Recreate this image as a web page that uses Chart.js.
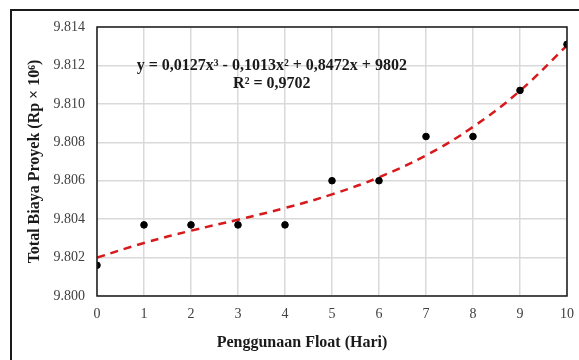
<!DOCTYPE html>
<html>
<head>
<meta charset="utf-8">
<script src="https://cdn.jsdelivr.net/npm/chart.js@4"></script>
<style>
  html, body { margin: 0; padding: 0; background: #fff; overflow: hidden; }
  #frame { position: absolute; left: 10px; top: 9px; width: 600px; height: 400px; border: 2px solid #1a1a1a; }
  #wrap { position: absolute; left: 0; top: 0; width: 579px; height: 360px; }
</style>
</head>
<body>
<div id="frame"></div>
<div id="wrap"><canvas id="floatChart"></canvas></div>
<script>
// Data
const floatDays = [0, 1, 2, 3, 4, 5, 6, 7, 8, 9, 10];
const totalCost = [9.8016, 9.8037, 9.8037, 9.8037, 9.8037, 9.8060, 9.8060, 9.8083, 9.8083, 9.8107, 9.8131];
const trendCost = [9.8020, 9.80276, 9.80340, 9.80397, 9.80458, 9.80529, 9.80618, 9.80732, 9.80880, 9.81068, 9.81304];
const yTicks = [9.800, 9.802, 9.804, 9.806, 9.808, 9.810, 9.812, 9.814];
const equationLines = ['y = 0,0127x³ - 0,1013x² + 0,8472x + 9802', 'R² = 0,9702'];
const xTitle = 'Penggunaan Float (Hari)';

const serif = "'Liberation Serif', 'Times New Roman', serif";

// Plot border, equation text and x-axis title
const framePlugin = {
    id: 'framePlugin',
    afterDatasetsDraw(chart) {
        const { ctx, chartArea: a, scales } = chart;
        ctx.save();
        ctx.strokeStyle = '#1a1a1a';
        ctx.lineWidth = 1.5;
        ctx.strokeRect(a.left, a.top, a.right - a.left, a.bottom - a.top);

        ctx.fillStyle = '#1a1a1a';
        ctx.font = 'bold 16px ' + serif;
        ctx.textAlign = 'center';
        ctx.textBaseline = 'middle';
        const cx = scales.x.getPixelForValue(3.72);
        const cy = scales.y.getPixelForValue(9.8120);
        equationLines.forEach((line, i) => ctx.fillText(line, cx, cy + i * 18));

        // x title sits a little left of the plot centre in the original
        ctx.fillText(xTitle, 302, 343);
        ctx.restore();
    }
};

function initializeChart() {
    const ctx = document.getElementById('floatChart').getContext('2d');
    new Chart(ctx, {
        type: 'scatter',
        data: {
            datasets: [{
                label: 'Total Biaya',
                data: floatDays.map((d, i) => ({ x: d, y: totalCost[i] })),
                backgroundColor: '#000',
                borderColor: '#000',
                pointRadius: 3.3,
                pointHoverRadius: 3.3
            }, {
                type: 'line',
                label: 'Trend',
                data: floatDays.map((d, i) => ({ x: d, y: trendCost[i] })),
                borderColor: '#d7191c',
                borderWidth: 2.5,
                borderDash: [8, 6],
                pointRadius: 0,
                tension: 0.4,
                fill: false
            }]
        },
        options: {
            responsive: true,
            maintainAspectRatio: false,
            animation: false,
            layout: { padding: { top: 27, right: 12, left: 0, bottom: 0 } },
            plugins: {
                legend: { display: false },
                tooltip: { enabled: false }
            },
            scales: {
                x: {
                    type: 'linear',
                    min: 0,
                    max: 10,
                    ticks: {
                        stepSize: 1,
                        padding: 10,
                        color: '#404040',
                        font: { family: serif, size: 14 }
                    },
                    grid: { color: '#d9d9d9', lineWidth: 1.5, drawTicks: false },
                    border: { display: false },
                    afterFit(scale) {
                        scale.height = 64;
                        scale.paddingRight = 0;
                        scale.paddingLeft = 0;
                    }
                },
                y: {
                    min: 9.800,
                    max: 9.814,
                    afterBuildTicks(scale) { scale.ticks = yTicks.map(v => ({ value: v })); },
                    ticks: {
                        padding: 12,
                        color: '#404040',
                        font: { family: serif, size: 14 },
                        callback: v => v.toFixed(3)
                    },
                    grid: { color: '#d9d9d9', lineWidth: 1.5, drawTicks: false },
                    border: { display: false },
                    title: {
                        display: true,
                        text: 'Total Biaya Proyek (Rp × 10⁶)',
                        color: '#1a1a1a',
                        font: { family: serif, size: 16, weight: 'bold' },
                        padding: { top: 25, bottom: 0 }
                    },
                    afterFit(scale) { scale.width = 97; }
                }
            }
        },
        plugins: [framePlugin]
    });
}

document.addEventListener('DOMContentLoaded', initializeChart);
</script>
</body>
</html>
